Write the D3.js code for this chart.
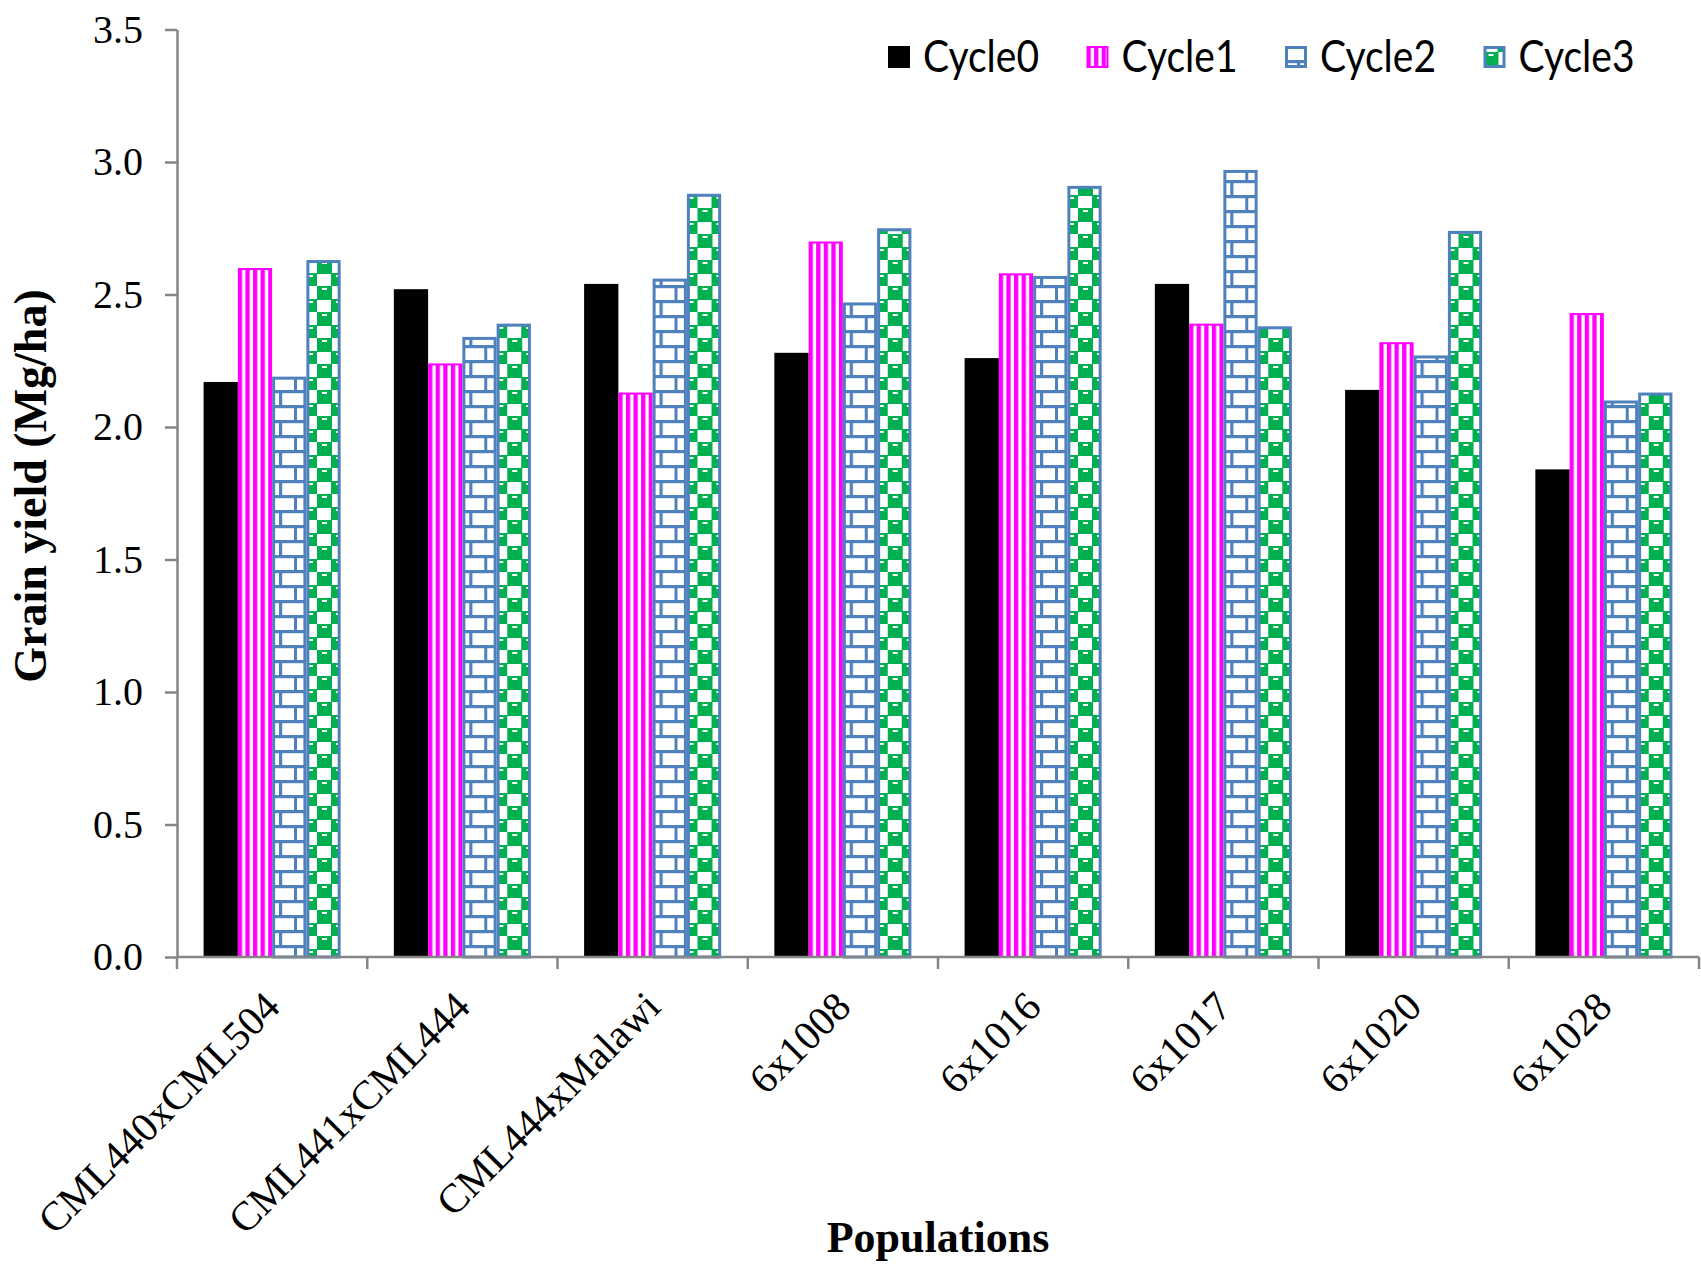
<!DOCTYPE html>
<html>
<head>
<meta charset="utf-8">
<script src="https://cdn.jsdelivr.net/npm/d3@7"></script>
<style>
  html, body { margin: 0; padding: 0; background: #fff; }
  svg { display: block; }
</style>
</head>
<body>
<svg id="chart" width="1701" height="1268"></svg>
<script>
// Grain yield of maize populations across selection cycles
const populations = ["CML440xCML504", "CML441xCML444", "CML444xMalawi", "6x1008", "6x1016", "6x1017", "6x1020", "6x1028"];
const cycles = ["Cycle0", "Cycle1", "Cycle2", "Cycle3"];
const cycle0 = [2.17, 2.52, 2.54, 2.28, 2.26, 2.54, 2.14, 1.84];
const cycle1 = [2.60, 2.24, 2.13, 2.70, 2.58, 2.39, 2.32, 2.43];
const cycle2 = [2.19, 2.34, 2.56, 2.47, 2.57, 2.97, 2.27, 2.10];
const cycle3 = [2.63, 2.39, 2.88, 2.75, 2.91, 2.38, 2.74, 2.13];
const yTicks = [0, 0.5, 1.0, 1.5, 2.0, 2.5, 3.0, 3.5];

const seriesValues = [cycle0, cycle1, cycle2, cycle3];

const svg = d3.select("#chart");
const axisColor = "#868686";
const blue = "#4F81BD";
const green = "#00B050";

// ---- fill patterns ----
const defs = svg.append("defs");

// Cycle1: magenta vertical stripes
const pStripe = defs.append("pattern").attr("id", "stripes")
  .attr("patternUnits", "userSpaceOnUse").attr("width", 7.6).attr("height", 10);
pStripe.append("rect").attr("width", 7.6).attr("height", 10).attr("fill", "#fff");
pStripe.append("rect").attr("x", 0).attr("width", 4.3).attr("height", 10).attr("fill", "#FF00FF");

// Cycle2: blue brick
const pBrick = defs.append("pattern").attr("id", "brick")
  .attr("patternUnits", "userSpaceOnUse").attr("width", 30).attr("height", 30);
pBrick.append("rect").attr("width", 30).attr("height", 30).attr("fill", "#fff");
pBrick.append("rect").attr("x", 0).attr("y", 0).attr("width", 30).attr("height", 3.2).attr("fill", blue);
pBrick.append("rect").attr("x", 0).attr("y", 15).attr("width", 30).attr("height", 3.2).attr("fill", blue);
pBrick.append("rect").attr("x", 12).attr("y", 0).attr("width", 3.2).attr("height", 15).attr("fill", blue);
pBrick.append("rect").attr("x", 27).attr("y", 15).attr("width", 3.2).attr("height", 15).attr("fill", blue);

// Cycle3: green large checker
const pCheck = defs.append("pattern").attr("id", "checker")
  .attr("patternUnits", "userSpaceOnUse").attr("width", 28).attr("height", 26);
pCheck.append("rect").attr("width", 28).attr("height", 26).attr("fill", "#fff");
pCheck.append("rect").attr("x", 0).attr("y", 0).attr("width", 15).attr("height", 14).attr("fill", green);
pCheck.append("rect").attr("x", 14).attr("y", 13).attr("width", 15).attr("height", 14).attr("fill", green);
pCheck.append("rect").attr("x", 5).attr("y", 2).attr("width", 5).attr("height", 2).attr("fill", "#fff");
pCheck.append("rect").attr("x", 19).attr("y", 15).attr("width", 5).attr("height", 2).attr("fill", "#fff");

const styles = [
  { fill: "#000000", stroke: "none", sw: 0 },
  { fill: "url(#stripes)", stroke: "#FF00FF", sw: 2 },
  { fill: "url(#brick)", stroke: blue, sw: 3 },
  { fill: "url(#checker)", stroke: blue, sw: 3 }
];

// ---- scales ----
const plotLeft = 177, plotRight = 1699, plotTop = 29.5, plotBottom = 957;

const x0 = d3.scaleBand().domain(populations).range([plotLeft, plotRight]).padding(0);
const groupPad = 26.6;
const x1 = d3.scaleBand().domain(cycles).range([groupPad, x0.bandwidth() - groupPad]).padding(0);
const y = d3.scaleLinear().domain([0, 3.5]).range([plotBottom, plotTop]);

// ---- bars ----
const groups = svg.append("g").selectAll("g")
  .data(populations)
  .join("g")
  .attr("transform", d => `translate(${x0(d)},0)`);

groups.selectAll("rect")
  .data((d, i) => cycles.map((c, k) => ({ cycle: c, k, value: seriesValues[k][i] })))
  .join("rect")
  .attr("x", d => x1(d.cycle) + styles[d.k].sw / 2)
  .attr("y", d => y(d.value) + styles[d.k].sw / 2)
  .attr("width", d => x1.bandwidth() - styles[d.k].sw)
  .attr("height", d => y(0) - y(d.value) - styles[d.k].sw / 2)
  .attr("fill", d => styles[d.k].fill)
  .attr("stroke", d => styles[d.k].stroke)
  .attr("stroke-width", d => styles[d.k].sw);

// ---- y axis ----
const yAxis = svg.append("g")
  .attr("transform", `translate(${plotLeft},0)`)
  .call(d3.axisLeft(y).tickValues(yTicks).tickFormat(d3.format(".1f")).tickSize(12).tickSizeOuter(0).tickPadding(22));
yAxis.select(".domain").attr("stroke", axisColor).attr("stroke-width", 2.5);
yAxis.selectAll(".tick line").attr("stroke", axisColor).attr("stroke-width", 2.5);
yAxis.selectAll(".tick text")
  .attr("font-family", "'Liberation Serif', 'Times New Roman', serif")
  .attr("font-size", 40).attr("fill", "#000");

// ---- x axis ----
const xAxis = svg.append("g");
xAxis.append("line")
  .attr("x1", plotLeft).attr("x2", plotRight)
  .attr("y1", y(0)).attr("y2", y(0))
  .attr("stroke", axisColor).attr("stroke-width", 2.5);
const boundaries = populations.map(p => x0(p)).concat([x0.range()[1]]);
xAxis.selectAll("line.tick")
  .data(boundaries)
  .join("line").attr("class", "tick")
  .attr("x1", d => d).attr("x2", d => d)
  .attr("y1", y(0)).attr("y2", y(0) + 12)
  .attr("stroke", axisColor).attr("stroke-width", 2.5);

xAxis.selectAll("text")
  .data(populations)
  .join("text")
  .attr("transform", d => `translate(${x0(d) + x0.bandwidth() / 2 + 10},${y(0) + 52}) rotate(-45)`)
  .attr("text-anchor", "end")
  .attr("font-family", "'Liberation Serif', 'Times New Roman', serif")
  .attr("font-size", 41)
  .attr("fill", "#000")
  .text(d => d);

// ---- axis titles ----
svg.append("text")
  .attr("transform", `translate(46,486) rotate(-90)`)
  .attr("text-anchor", "middle")
  .attr("font-family", "'Liberation Serif', 'Times New Roman', serif")
  .attr("font-weight", "bold").attr("font-size", 46)
  .attr("fill", "#000")
  .text("Grain yield (Mg/ha)");

svg.append("text")
  .attr("x", (plotLeft + plotRight) / 2).attr("y", 1252)
  .attr("text-anchor", "middle")
  .attr("font-family", "'Liberation Serif', 'Times New Roman', serif")
  .attr("font-weight", "bold").attr("font-size", 44)
  .attr("fill", "#000")
  .text("Populations");

// ---- legend ----
const legendX = d3.scaleBand().domain(cycles).range([888, 1682]).padding(0);
const legend = svg.append("g").selectAll("g")
  .data(cycles)
  .join("g")
  .attr("transform", d => `translate(${legendX(d)},0)`);
legend.append("rect")
  .attr("x", (d, k) => styles[k].sw / 2)
  .attr("y", (d, k) => 46 + styles[k].sw / 2)
  .attr("width", (d, k) => 22 - styles[k].sw)
  .attr("height", (d, k) => 22 - styles[k].sw)
  .attr("fill", (d, k) => styles[k].fill)
  .attr("stroke", (d, k) => styles[k].stroke)
  .attr("stroke-width", (d, k) => styles[k].sw);
legend.append("text")
  .attr("x", 35).attr("y", 72)
  .attr("font-family", "Lato, 'Open Sans', sans-serif")
  .attr("font-size", 44)
  .attr("textLength", 116)
  .attr("lengthAdjust", "spacingAndGlyphs")
  .attr("fill", "#000")
  .text(d => d);
</script>
</body>
</html>
